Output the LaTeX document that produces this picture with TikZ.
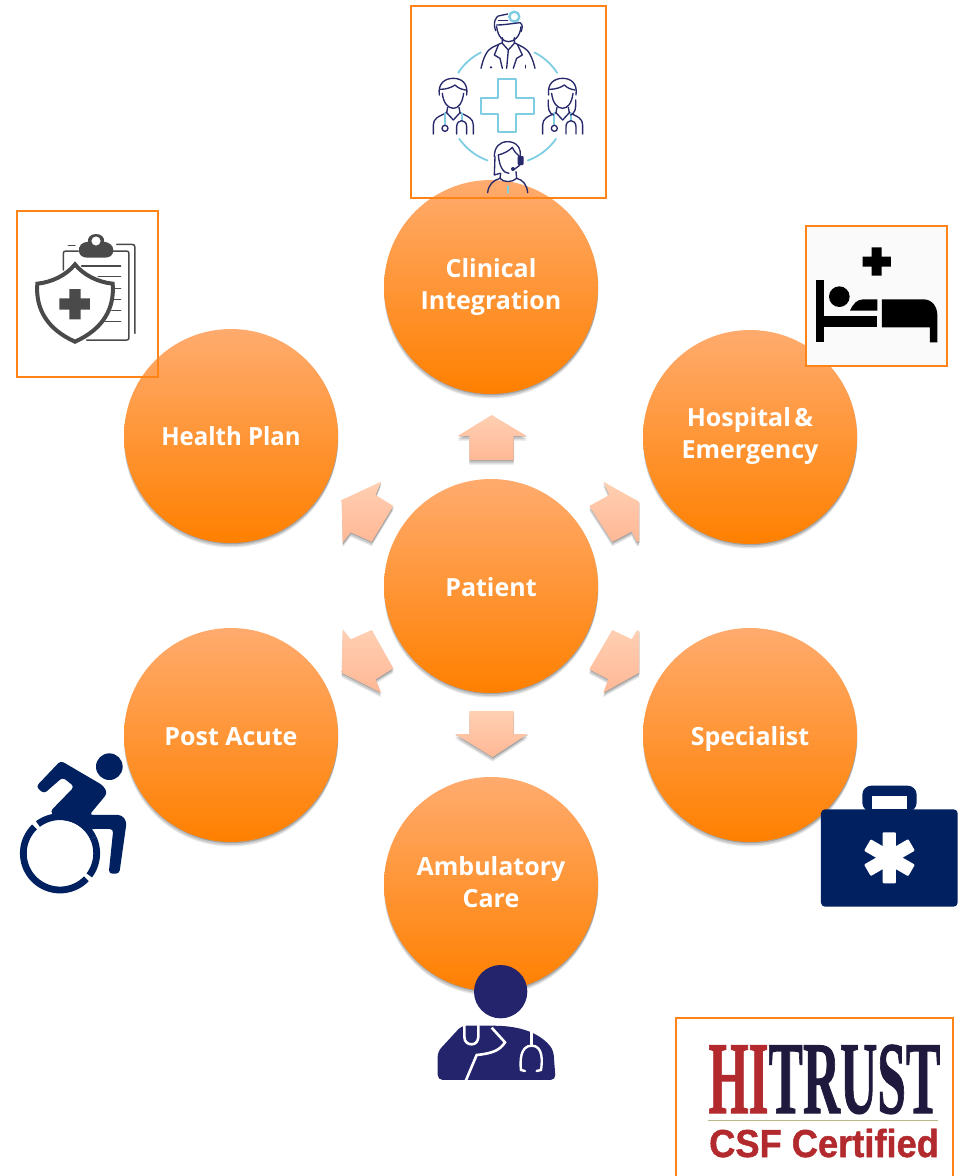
\documentclass[tikz,border=0pt]{standalone}
\usepackage{fontspec}
\setmainfont{Open Sans}
\newfontfamily\hitserif{Liberation Serif}[BoldFeatures={FakeBold=1.2}]
\newfontfamily\hitsans{Liberation Sans}[BoldFeatures={FakeBold=1.2}]
\definecolor{ringblue}{HTML}{7FCDE3}
\definecolor{medicnavy}{HTML}{27296B}
\definecolor{iconnavy}{HTML}{002060}
\definecolor{docnavy}{HTML}{23246B}
\definecolor{boxorange}{HTML}{FF8418}
\definecolor{shieldgray}{HTML}{4A4A4A}
\definecolor{hired}{HTML}{B22A2E}
\definecolor{hinavy}{HTML}{1F1A3D}
\definecolor{hiolive}{HTML}{B8B88A}
\tikzset{
  softshadow/.style={
    preaction={fill=black,opacity=.10,transform canvas={yshift=-4.5pt}},
    preaction={fill=black,opacity=.13,transform canvas={yshift=-3pt}},
    preaction={fill=black,opacity=.18,transform canvas={xshift=.5pt,yshift=-1.2pt}}},
  bubble/.style={circle,minimum size=214pt,inner sep=0pt,softshadow,
    top color={rgb,255:red,255;green,171;blue,110},bottom color={rgb,255:red,255;green,128;blue,0},
    text=white,align=center,font=\fontsize{25}{32}\selectfont\bfseries},
  flow/.style={softshadow,top color={rgb,255:red,255;green,207;blue,178},bottom color={rgb,255:red,255;green,184;blue,150}},
  framebox/.style={draw=boxorange,line width=2pt},
  medicline/.style={draw=medicnavy,line width=1.35pt,line cap=round,line join=round},
  ringline/.style={draw=ringblue,line width=1.8pt,line cap=round,line join=round},
  grayline/.style={draw=shieldgray,line width=1.5pt,line cap=round,line join=round}
}
\newcommand{\medicbody}[1]{%
\begin{scope}[shift={(#1,0)}]
\draw[medicline] (103,285) .. controls (98,250) and (120,235) .. (145,235) .. controls (170,235) and (190,250) .. (185,285);
\draw[medicline] (112,280) .. controls (115,310) and (130,325) .. (145,325) .. controls (160,325) and (172,310) .. (176,280);
\draw[medicline] (106,268) .. controls (125,268) and (140,262) .. (150,255) .. controls (160,265) and (170,268) .. (182,270);
\draw[medicline] (85,402) -- (85,375) .. controls (85,355) and (100,350) .. (125,338) -- (128,322);
\draw[medicline] (205,402) -- (205,375) .. controls (205,355) and (190,350) .. (165,338) -- (162,322);
\draw[medicline] (125,338) -- (145,360) -- (165,338);
\draw[ringline] (120,340) -- (120,375);
\draw[ringline] (170,340) -- (170,362);
\draw[medicline] (120,385) circle[radius=9];
\draw[medicline] (155,402) -- (155,380) .. controls (155,368) and (163,362) .. (170,362) .. controls (177,362) and (185,368) .. (185,380) -- (185,402);
\end{scope}}
\newcommand{\oneline}[2]{\raisebox{#1}[0pt][0pt]{#2}}
\newcommand{\twolines}[3]{\raisebox{#1}[0pt][0pt]{\begin{tabular}{@{}c@{}}#2\\#3\end{tabular}}}
\begin{document}
\begin{tikzpicture}[x=1pt,y=-1pt]
\useasboundingbox (0,0) rectangle (959,1176);
% flow arrows
\path[flow] (491.7,415) -- (526.7,436) -- (513.7,436) -- (513.7,460) -- (469.3,460) -- (469.3,436) -- (457.7,436) -- cycle;
\path[flow] (469.3,711) -- (513.7,711) -- (513.7,734) -- (527.7,734) -- (492.5,757) -- (455,734) -- (469.3,734) -- cycle;
\path[flow] (589.3,506) -- (612.3,541.7) -- (631.7,531.7) -- (637,541.7) -- (639,541.7) -- (639,501.7) -- (603.3,481.7) -- (609.3,495) -- cycle;
\path[flow] (393.3,506) -- (371.7,541.7) -- (350.7,532.3) -- (342.7,542.7) -- (341.7,500) -- (381,481.7) -- (375.7,495) -- cycle;
\path[flow] (393.3,668.3) -- (371.7,630) -- (350.7,639.3) -- (342.7,629.3) -- (341.7,672.7) -- (381,692.7) -- (375.7,679.3) -- cycle;
\path[flow] (589.3,669.3) -- (612.3,630) -- (631.7,639.3) -- (636.7,630.7) -- (639,630.7) -- (639,672.7) -- (603.3,692.7) -- (608.3,679.3) -- cycle;
% bubbles
\node[bubble] (patient) at (491,586) {\oneline{-10pt}{Patient}};
\node[bubble] (clinical) at (491,287) {Clinical\\Integration};
\node[bubble] (hospital) at (750,437) {\twolines{-5pt}{Hospital\hspace{-.12em} \&}{Emergency}};
\node[bubble] (specialist) at (750,735) {\oneline{-10pt}{Specialist}};
\node[bubble] (ambulatory) at (491,884) {\twolines{-7pt}{Ambulatory}{Care}};
\node[bubble] (postacute) at (231,735) {\oneline{-10pt}{Post Acute}};
\node[bubble] (healthplan) at (231,436) {\oneline{-9pt}{\scalebox{.96}[1]{Health Plan}}};
% clinical icon
\draw[framebox] (411,6) rectangle (605.5,198);
\begin{scope}[x=.33333pt,y=-.33333pt,shift={(1215,0)}]
\foreach \a/\b in {-147/-117,-63/-33,35/70,110/145}
  \draw[ringline] plot[domain=\a:\b,samples=16,smooth] ({308+177*cos(\x)},{315+177*sin(\x)});
\draw[ringline,line width=2.3pt] (278,236) -- (334,236) -- (334,293) -- (387,293) -- (387,342) -- (334,342) -- (334,397) -- (278,397) -- (278,342) -- (228,342) -- (228,293) -- (278,293) -- cycle;
\draw[ringline,line width=2.4pt] (328,50) circle[radius=15];
\draw[medicline] (275,80) .. controls (278,110) and (295,125) .. (310,125) .. controls (328,125) and (345,110) .. (348,80);
\draw[medicline] (272,92) .. controls (262,65) and (275,50) .. (280,48) -- (308,42);
\draw[medicline] (280,62) -- (308,62);
\draw[medicline] (275,75) .. controls (295,75) and (310,72) .. (345,68) .. controls (355,75) and (352,85) .. (348,95);
\draw[medicline] (228,205) .. controls (235,175) and (245,150) .. (262,142) -- (292,128) -- (292,113);
\draw[medicline] (390,205) .. controls (383,175) and (372,150) .. (355,142) -- (328,128) -- (328,113);
\draw[medicline] (292,130) -- (310,150) -- (328,130);
\draw[medicline] (280,135) -- (268,165) -- (285,175) -- (292,205);
\draw[medicline] (338,135) -- (352,165) -- (335,175) -- (325,205);
\draw[medicline] (310,150) -- (305,205);
\fill[medicnavy] (258,202) circle[radius=4];
\draw[medicline] (362,196) -- (362,204);
\medicbody{0}
\medicbody{328}
\draw[medicline] (430,300) .. controls (428,325) and (432,340) .. (445,345);
\draw[medicline] (512,300) .. controls (514,325) and (510,340) .. (497,345);
\draw[medicline] (268,470) .. controls (268,440) and (285,425) .. (308,425) .. controls (335,425) and (350,445) .. (345,470);
\draw[medicline] (280,465) .. controls (283,500) and (295,520) .. (312,520);
\draw[medicline] (280,465) .. controls (300,460) and (315,450) .. (322,442) .. controls (328,455) and (335,462) .. (342,468);
\fill[medicnavy,rounded corners=1pt] (338,468) rectangle (356,495);
\draw[medicline] (345,495) -- (328,508);
\fill[medicnavy] (324,507) circle[radius=6];
\draw[medicline] (270,470) -- (268,525) -- (285,520);
\draw[medicline] (248,578) .. controls (250,555) and (265,540) .. (285,535) .. controls (295,548) and (322,548) .. (335,535) .. controls (355,540) and (366,555) .. (368,578);
\draw[medicline] (285,535) -- (287,520);
\draw[medicline] (335,535) -- (333,515);
\draw[ringline] (308,558) -- (308,578);
\end{scope}
% health plan icon
\draw[framebox] (16.5,211) rectangle (157.5,377);
\begin{scope}[x=.33333pt,y=-.33333pt,shift={(30,615)}]
\draw[grayline] (320,118) -- (365,118) .. controls (372,118) and (375,120) .. (375,128) -- (375,385);
\draw[grayline] (175,122) -- (195,122);
\draw[grayline] (205,138) -- (168,138) .. controls (162,138) and (160,140) .. (160,146) -- (160,195);
\draw[grayline] (295,138) -- (348,138) .. controls (355,138) and (357,140) .. (357,146) -- (357,398) .. controls (357,403) and (355,405) .. (350,405) -- (230,405);
\fill[shieldgray,even odd rule] (258,87) .. controls (240,87) and (232,100) .. (234,110) .. controls (215,112) and (205,122) .. (207,140) .. controls (208,152) and (220,158) .. (232,158) -- (285,158) .. controls (300,158) and (310,150) .. (310,135) .. controls (310,122) and (298,112) .. (282,110) .. controls (284,98) and (275,87) .. (258,87) -- cycle (258,108) circle[radius=14];
\foreach \xa/\yy in {215/183,265/215,312/250,312/283,305/317,285/350}
  \draw[grayline] (\xa,\yy) -- (332,\yy);
\draw[draw=shieldgray,fill=white,line width=4pt,line join=miter] (195,178) .. controls (170,210) and (125,232) .. (82,236) .. controls (76,310) and (110,372) .. (195,410) .. controls (280,372) and (314,310) .. (308,236) .. controls (265,232) and (220,210) .. (195,178) -- cycle;
\fill[shieldgray] (178,252) -- (212,252) -- (212,280) -- (240,280) -- (240,314) -- (212,314) -- (212,343) -- (178,343) -- (178,314) -- (148,314) -- (148,280) -- (178,280) -- cycle;
\end{scope}
% hospital icon
\fill[white!98!black] (806,226) rectangle (946.5,366);
\draw[framebox] (806,226) rectangle (946.5,366);
\begin{scope}[x=.33333pt,y=-.33333pt,shift={(2400,660)}]
\fill[black] (215,82) -- (245,82) -- (245,110) -- (273,110) -- (273,140) -- (245,140) -- (245,167) -- (215,167) -- (215,140) -- (188,140) -- (188,110) -- (215,110) -- cycle;
\fill[black] (48,180) rectangle (72,367);
\fill[black] (72,288) rectangle (232,322);
\fill[black] (118,230) circle[radius=31];
\fill[black] (150,272) .. controls (160,250) and (172,238) .. (190,238) -- (232,238) -- (232,272) -- cycle;
\fill[black] (246,238) -- (370,238) .. controls (398,238) and (412,262) .. (412,285) -- (412,367) -- (390,367) -- (390,322) -- (246,322) -- cycle;
\end{scope}
% wheelchair icon
\begin{scope}[x=.33333pt,y=-.33333pt,shift={(30,2235)}]
\fill[iconnavy] (298,65) circle[radius=40];
\fill[iconnavy,rounded corners=3.5pt] (78,125) -- (152,47) -- (280,122) -- (292,145) -- (238,210) -- (335,210) -- (350,230) -- (328,386) -- (296,386) -- (310,252) -- (245,252) -- (190,270) -- (120,200) -- (193,125) -- (158,97) -- (102,146) -- cycle;
\fill[white] (150,325) circle[radius=100];
\draw[iconnavy,line width=6.8pt] plot[domain=25:127,samples=24,smooth] ({150+110*cos(-\x)},{325+110*sin(-\x)});
\draw[iconnavy,line width=6.8pt] plot[domain=134:316,samples=40,smooth] ({150+110*cos(-\x)},{325+110*sin(-\x)});
\draw[iconnavy,line width=6.8pt] plot[domain=-37:25,samples=20,smooth] ({150+110*cos(-\x)},{325+110*sin(-\x)});
\end{scope}
% medical bag icon
\begin{scope}[x=.33333pt,y=-.33333pt,shift={(2430,2325)}]
\fill[iconnavy,rounded corners=9pt] (157,110) -- (157,32) -- (320,32) -- (320,110) -- cycle;
\fill[white] (187,62) rectangle (290,103);
\fill[iconnavy,rounded corners=4pt] (33,103) rectangle (443,395);
\foreach \r in {0,60,120}
  \fill[white,rounded corners=1pt,rotate around={\r:(238,248)}] (218,172) rectangle (258,325);
\end{scope}
% doctor icon
\begin{scope}[x=.33333pt,y=-.33333pt,shift={(1275,2865)}]
\fill[docnavy] (227,110) circle[radius=80];
\fill[docnavy,rounded corners=5pt] (38,290) -- (110,212) -- (210,212) .. controls (280,215) and (340,230) .. (385,285) -- (392,375) -- (38,375) -- cycle;
\draw[white,line width=2.6pt,line cap=round] (118,212) -- (118,245) .. controls (118,262) and (130,268) .. (140,268) .. controls (152,268) and (160,258) .. (160,245) -- (160,212);
\draw[white,line width=2.6pt] (200,218) -- (240,262) .. controls (225,285) and (205,295) .. (155,300) -- (122,378);
\draw[white,line width=2.4pt,line cap=round] (320,232) -- (320,272);
\draw[white,line width=2.4pt,line cap=round] (300,348) -- (288,345) .. controls (285,320) and (285,272) .. (320,272) .. controls (355,272) and (352,320) .. (348,345) -- (335,348);
\end{scope}
% HITRUST badge
\draw[framebox] (675.7,1017.5) rectangle (953.3,1190);
\node[anchor=base west,inner sep=0pt] (hitrust) at (708.3,1113) {\scalebox{0.5}[1]{\fontsize{103}{103}\selectfont\hitserif\bfseries\textcolor{hired}{HI}\textcolor{hinavy}{TRUST}}};
\coordinate (rulea) at (708.3,1120.7);
\coordinate (ruleb) at (938.3,1120.7);
\draw[hiolive,line width=1.2pt] (rulea) -- (ruleb);
\node[anchor=base west,inner sep=0pt,text=hired] (csf) at (709,1157) {\scalebox{0.93}[1]{\fontsize{39}{39}\selectfont\hitsans\bfseries CSF Certified}};
\end{tikzpicture}
\end{document}
